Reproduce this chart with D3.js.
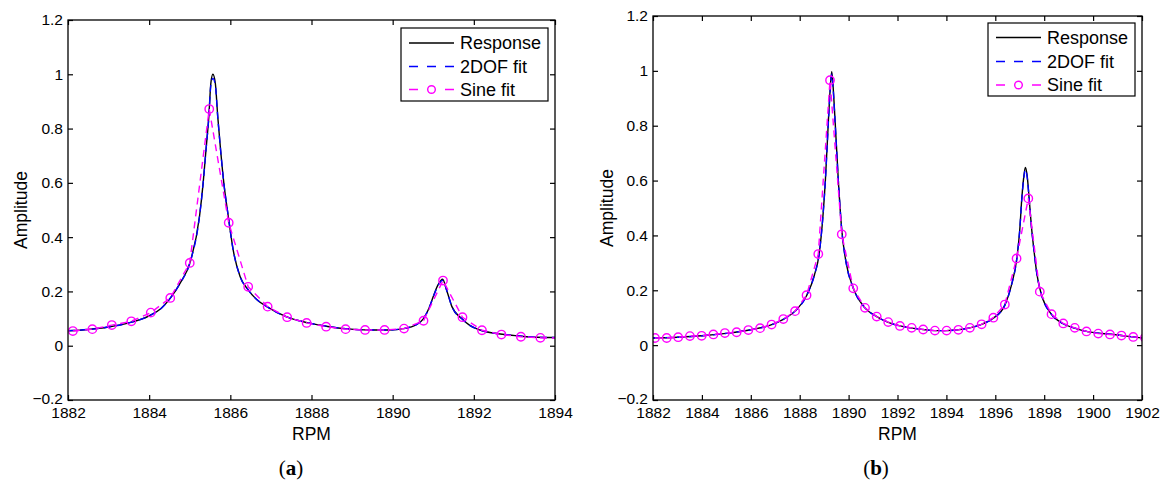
<!DOCTYPE html>
<html>
<head>
<meta charset="utf-8">
<script src="https://cdn.jsdelivr.net/npm/d3@7"></script>
<style>
  body { margin: 0; background: #fff; }
  svg { display: block; }
</style>
</head>
<body>
<script>
// ---- data ----
var seriesNames = ["Response", "2DOF fit", "Sine fit"];
var ampTicks = [-0.2, 0, 0.2, 0.4, 0.6, 0.8, 1, 1.2];
var ampTickLabels = ["\u22120.2", "0", "0.2", "0.4", "0.6", "0.8", "1", "1.2"];

// panel (a)
var rpmTicksA = [1882, 1884, 1886, 1888, 1890, 1892, 1894];
var rpmA = [1882.0, 1882.5, 1883.0, 1883.5, 1884.0, 1884.3, 1884.53, 1884.76, 1885.01, 1885.24,
            1885.33, 1885.40, 1885.47, 1885.52, 1885.57, 1885.63, 1885.69, 1885.76, 1885.84, 1885.95,
            1886.07, 1886.24, 1886.44, 1886.65, 1886.91, 1887.39, 1887.9, 1888.4, 1888.9, 1889.4,
            1889.9, 1890.3, 1890.55, 1890.76, 1890.9, 1891.0, 1891.12, 1891.23, 1891.34, 1891.46,
            1891.7, 1891.9, 1892.15, 1892.65, 1893.1, 1893.55, 1894.0];
var responseA = [0.055, 0.060, 0.069, 0.084, 0.110, 0.138, 0.177, 0.230, 0.308, 0.476,
                 0.599, 0.721, 0.844, 0.967, 1.000, 0.967, 0.844, 0.721, 0.599, 0.476,
                 0.353, 0.255, 0.206, 0.170, 0.143, 0.106, 0.085, 0.071, 0.062, 0.058,
                 0.058, 0.064, 0.075, 0.100, 0.140, 0.181, 0.225, 0.245, 0.200, 0.144,
                 0.100, 0.075, 0.058, 0.043, 0.036, 0.031, 0.030];
var dofA = [0.055, 0.060, 0.069, 0.084, 0.110, 0.138, 0.177, 0.230, 0.308, 0.476,
            0.599, 0.721, 0.842, 0.960, 0.985, 0.960, 0.842, 0.721, 0.599, 0.476,
            0.353, 0.255, 0.206, 0.170, 0.143, 0.106, 0.085, 0.071, 0.062, 0.058,
            0.058, 0.064, 0.075, 0.100, 0.140, 0.180, 0.222, 0.240, 0.200, 0.144,
            0.100, 0.075, 0.058, 0.043, 0.036, 0.031, 0.030];
var sineRpmA = [1882.12, 1882.60, 1883.08, 1883.56, 1884.04, 1884.52, 1885.00, 1885.48, 1885.96, 1886.44,
                1886.92, 1887.40, 1887.88, 1888.36, 1888.84, 1889.32, 1889.80, 1890.28, 1890.76, 1891.24,
                1891.72, 1892.20, 1892.68, 1893.16, 1893.64, 1894.12];
var sineA = [0.054, 0.061, 0.076, 0.090, 0.122, 0.176, 0.305, 0.872, 0.453, 0.217,
             0.144, 0.105, 0.084, 0.070, 0.061, 0.058, 0.058, 0.063, 0.092, 0.240,
             0.105, 0.057, 0.041, 0.033, 0.029, 0.028];

// panel (b)
var rpmTicksB = [1882, 1884, 1886, 1888, 1890, 1892, 1894, 1896, 1898, 1900, 1902];
var rpmB = [1882.0, 1883.0, 1884.0, 1885.0, 1886.0, 1886.8, 1887.33, 1887.81, 1888.28, 1888.6,
            1888.8, 1888.95, 1889.05, 1889.18, 1889.26, 1889.31, 1889.36, 1889.44, 1889.58, 1889.72,
            1889.9, 1890.19, 1890.67, 1891.15, 1891.62, 1892.1, 1892.58, 1893.05, 1893.53, 1894.01,
            1894.49, 1894.96, 1895.44, 1895.92, 1896.39, 1896.65, 1896.88, 1897.0, 1897.08, 1897.16,
            1897.23, 1897.3, 1897.39, 1897.47, 1897.58, 1897.7, 1897.87, 1898.3, 1898.78, 1899.25,
            1899.73, 1900.21, 1900.69, 1901.16, 1901.64, 1902.0];
var responseB = [0.026, 0.029, 0.034, 0.043, 0.056, 0.073, 0.094, 0.124, 0.180, 0.255,
                 0.335, 0.470, 0.600, 0.830, 0.950, 0.997, 0.950, 0.830, 0.600, 0.420,
                 0.300, 0.208, 0.136, 0.104, 0.083, 0.070, 0.062, 0.057, 0.053, 0.053,
                 0.056, 0.063, 0.076, 0.098, 0.146, 0.215, 0.316, 0.420, 0.530, 0.610,
                 0.648, 0.620, 0.529, 0.440, 0.347, 0.260, 0.190, 0.112, 0.078, 0.062,
                 0.050, 0.044, 0.040, 0.035, 0.030, 0.026];
var dofB = [0.026, 0.029, 0.034, 0.043, 0.056, 0.073, 0.094, 0.124, 0.180, 0.255,
            0.335, 0.470, 0.600, 0.825, 0.945, 0.988, 0.945, 0.825, 0.600, 0.420,
            0.300, 0.208, 0.136, 0.104, 0.083, 0.070, 0.062, 0.057, 0.053, 0.053,
            0.056, 0.063, 0.076, 0.098, 0.146, 0.215, 0.316, 0.420, 0.528, 0.605,
            0.640, 0.615, 0.527, 0.440, 0.347, 0.260, 0.190, 0.112, 0.078, 0.062,
            0.050, 0.044, 0.040, 0.035, 0.030, 0.026];
var sineRpmB = [1882.08, 1882.56, 1883.03, 1883.51, 1883.99, 1884.47, 1884.94, 1885.42, 1885.90, 1886.38,
                1886.85, 1887.33, 1887.81, 1888.28, 1888.76, 1889.24, 1889.72, 1890.19, 1890.67, 1891.15,
                1891.62, 1892.10, 1892.58, 1893.05, 1893.53, 1894.01, 1894.49, 1894.96, 1895.44, 1895.92,
                1896.39, 1896.87, 1897.35, 1897.82, 1898.30, 1898.78, 1899.25, 1899.73, 1900.21, 1900.69,
                1901.16, 1901.64, 1902.12];
var sineB = [0.026, 0.026, 0.029, 0.033, 0.034, 0.039, 0.044, 0.047, 0.055, 0.062,
             0.075, 0.095, 0.124, 0.182, 0.332, 0.966, 0.404, 0.207, 0.136, 0.104,
             0.084, 0.070, 0.063, 0.057, 0.053, 0.053, 0.056, 0.063, 0.076, 0.100,
             0.148, 0.316, 0.535, 0.195, 0.113, 0.079, 0.063, 0.050, 0.042, 0.039,
             0.035, 0.030, 0.027];

// ---- drawing ----
var SANS = "'Liberation Sans', Arial, Helvetica, sans-serif";
var SERIF = "'Liberation Serif', 'DejaVu Serif', serif";

var svg = d3.select("body").append("svg")
    .attr("width", 1163)
    .attr("height", 486)
    .style("font-family", SANS);

function zip(xs, ys) {
    return xs.map(function(v, i) { return [v, ys[i]]; });
}

function drawPanel(p) {
    var x = d3.scaleLinear().domain([p.ticks[0], p.ticks[p.ticks.length - 1]]).range([p.left, p.right]);
    var y = d3.scaleLinear().domain([-0.2, 1.2]).range([p.bottom, p.top]);
    var g = svg.append("g");

    g.append("clipPath").attr("id", "clip" + p.id)
      .append("rect")
        .attr("x", p.left).attr("y", p.top)
        .attr("width", p.right - p.left).attr("height", p.bottom - p.top);

    var smooth = d3.line().x(function(d) { return x(d[0]); }).y(function(d) { return y(d[1]); })
        .curve(d3.curveMonotoneX);
    var straight = d3.line().x(function(d) { return x(d[0]); }).y(function(d) { return y(d[1]); });

    var plot = g.append("g").attr("clip-path", "url(#clip" + p.id + ")");
    plot.append("path").attr("d", smooth(zip(p.rpm, p.response)))
        .attr("fill", "none").attr("stroke", "#000").attr("stroke-width", 1.4);
    plot.append("path").attr("d", smooth(zip(p.rpm, p.dof)))
        .attr("fill", "none").attr("stroke", "#0000ff").attr("stroke-width", 1.4)
        .attr("stroke-dasharray", "7,5");
    var sinePts = zip(p.sineRpm, p.sine);
    plot.append("path").attr("d", straight(sinePts))
        .attr("fill", "none").attr("stroke", "#ff00ff").attr("stroke-width", 1.4)
        .attr("stroke-dasharray", "7,5");
    plot.selectAll("circle.m").data(sinePts).enter().append("circle")
        .attr("class", "m")
        .attr("cx", function(d) { return x(d[0]); })
        .attr("cy", function(d) { return y(d[1]); })
        .attr("r", 4.2)
        .attr("fill", "none").attr("stroke", "#ff00ff").attr("stroke-width", 1.4);

    // axes, ticks pointing inward on all four sides
    var bottomAx = g.append("g").attr("transform", "translate(0," + p.bottom + ")")
        .call(d3.axisBottom(x).tickValues(p.ticks).tickFormat(d3.format("d"))
              .tickSizeInner(-5).tickSizeOuter(0).tickPadding(7));
    var topAx = g.append("g").attr("transform", "translate(0," + p.top + ")")
        .call(d3.axisTop(x).tickValues(p.ticks).tickFormat("").tickSizeInner(-5).tickSizeOuter(0));
    var leftAx = g.append("g").attr("transform", "translate(" + p.left + ",0)")
        .call(d3.axisLeft(y).tickValues(ampTicks)
              .tickFormat(function(d, i) { return ampTickLabels[i]; })
              .tickSizeInner(-5).tickSizeOuter(0).tickPadding(5));
    var rightAx = g.append("g").attr("transform", "translate(" + p.right + ",0)")
        .call(d3.axisRight(y).tickValues(ampTicks).tickFormat("").tickSizeInner(-5).tickSizeOuter(0));

    [bottomAx, topAx, leftAx, rightAx].forEach(function(a) {
        a.select(".domain").remove();
        a.selectAll("line").attr("stroke", "#000").attr("stroke-width", 1.2);
        a.attr("font-size", null).attr("font-family", null);
        a.selectAll("text").style("font-size", "15.5px").style("font-family", SANS).attr("fill", "#000");
    });
    // lowest y label sits just above the first x label, as in the original
    leftAx.selectAll(".tick text").filter(function(d) { return d === -0.2; }).attr("dy", "0.2em");

    g.append("rect")
        .attr("x", p.left).attr("y", p.top)
        .attr("width", p.right - p.left).attr("height", p.bottom - p.top)
        .attr("fill", "none").attr("stroke", "#000").attr("stroke-width", 1.3);

    // axis titles
    g.append("text")
        .attr("x", (p.left + p.right) / 2).attr("y", p.bottom + 34)
        .attr("dy", "0.35em").attr("text-anchor", "middle")
        .style("font-size", "17.5px").text("RPM");
    g.append("text")
        .attr("transform", "translate(" + p.ylabelX + "," + (p.top + p.bottom) / 2 + ") rotate(-90)")
        .attr("dy", "0.35em").attr("text-anchor", "middle")
        .style("font-size", "17.5px").text("Amplitude");

    // legend
    var L = p.legend;
    var lg = g.append("g");
    lg.append("rect")
        .attr("x", L.x).attr("y", L.y).attr("width", L.w).attr("height", L.h)
        .attr("fill", "#fff").attr("stroke", "#000").attr("stroke-width", 1.2);
    var styles = [
        { color: "#000000", dash: null, marker: false },
        { color: "#0000ff", dash: "9,9", marker: false },
        { color: "#ff00ff", dash: "9,9", marker: true }
    ];
    seriesNames.forEach(function(name, i) {
        var ry = L.y + L.rows[i];
        var s = styles[i];
        var ln = lg.append("line")
            .attr("x1", L.x + 8).attr("x2", L.x + 53)
            .attr("y1", ry).attr("y2", ry)
            .attr("stroke", s.color).attr("stroke-width", 1.4);
        if (s.dash) ln.attr("stroke-dasharray", s.dash);
        if (s.marker) {
            lg.append("circle").attr("cx", L.x + 30.5).attr("cy", ry).attr("r", 3.8)
                .attr("fill", "#fff").attr("stroke", s.color).attr("stroke-width", 1.4);
        }
        lg.append("text")
            .attr("x", L.x + 59).attr("y", ry).attr("dy", "0.35em")
            .style("font-size", "18px").text(name);
    });

    // sub-caption
    var cap = g.append("text")
        .attr("x", p.capX).attr("y", 468).attr("dy", "0.35em")
        .attr("text-anchor", "middle")
        .style("font-family", SERIF)
        .style("font-size", "21px");
    cap.append("tspan").text("(");
    cap.append("tspan").style("font-weight", "bold").text(p.cap);
    cap.append("tspan").text(")");
}

drawPanel({
    id: "a", left: 68, right: 555, top: 20, bottom: 400,
    ticks: rpmTicksA, rpm: rpmA, response: responseA, dof: dofA,
    sineRpm: sineRpmA, sine: sineA,
    ylabelX: 21, capX: 291, cap: "a",
    legend: { x: 401, y: 28, w: 147, h: 73, rows: [15, 38.5, 61.5] }
});

drawPanel({
    id: "b", left: 653, right: 1142, top: 16, bottom: 400,
    ticks: rpmTicksB, rpm: rpmB, response: responseB, dof: dofB,
    sineRpm: sineRpmB, sine: sineB,
    ylabelX: 607, capX: 876, cap: "b",
    legend: { x: 988, y: 23, w: 147, h: 73, rows: [14.5, 38.5, 62] }
});
</script>
</body>
</html>
